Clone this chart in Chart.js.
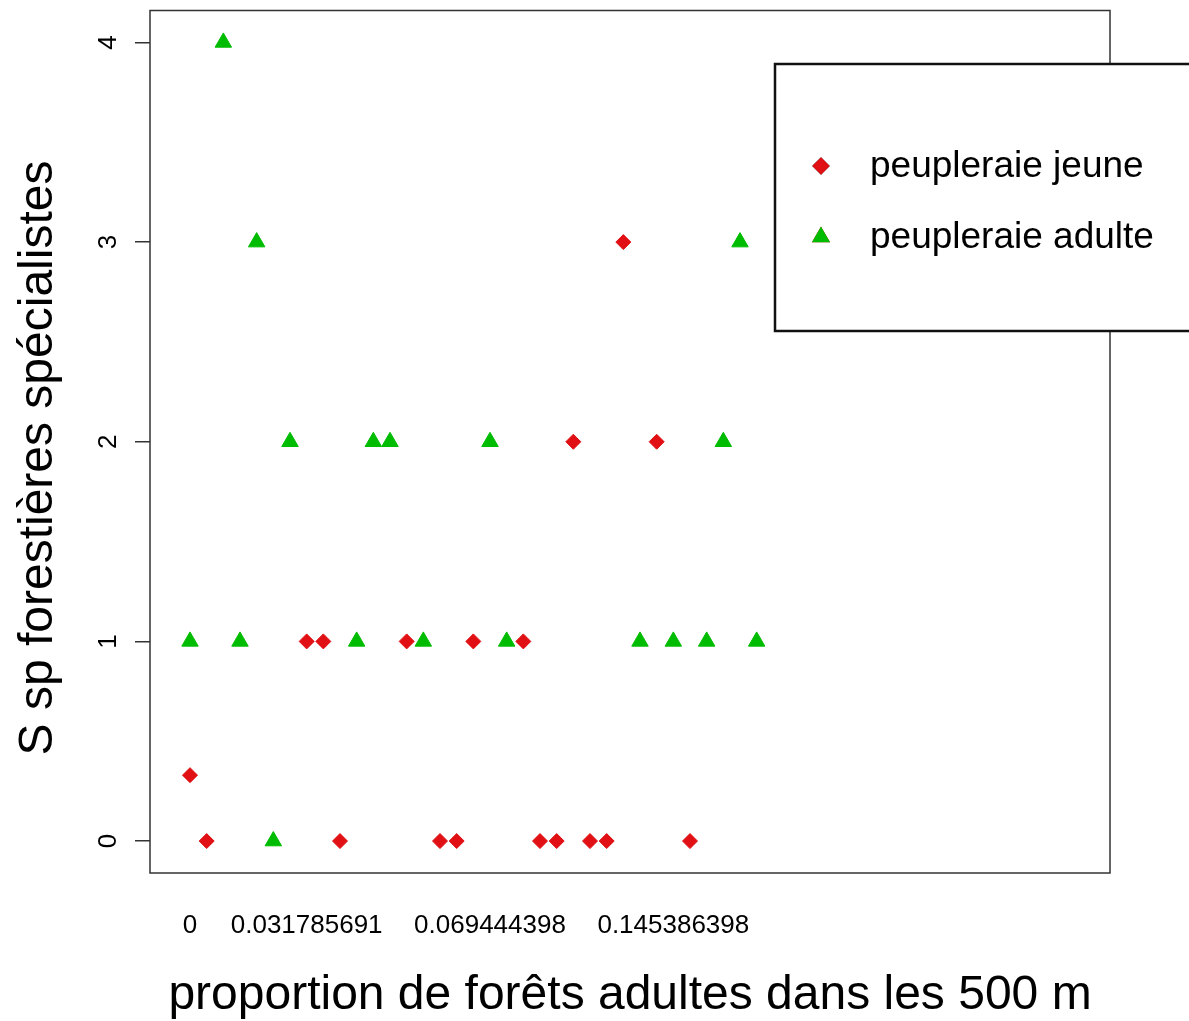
<!DOCTYPE html>
<html>
<head>
<meta charset="utf-8">
<title>S sp forestières spécialistes</title>
<script src="https://cdn.jsdelivr.net/npm/chart.js@4.4.1/dist/chart.umd.min.js"></script>
<style>
  html, body { margin: 0; padding: 0; background: #fff; }
  canvas { display: block; }
</style>
</head>
<body>
<canvas id="plot" width="1189" height="1021"></canvas>
<script>
// factor positions (0 = first level) and counts
const jeuneX = [0, 1, 7, 8, 9, 13, 15, 16, 17, 20, 21, 22, 23, 24, 25, 26, 28, 30];
const jeuneY = [0.33, 0, 1, 1, 0, 1, 0, 0, 1, 1, 0, 0, 2, 0, 0, 3, 2, 0];
const adulteX = [0, 2, 3, 4, 5, 6, 10, 11, 12, 14, 18, 19, 27, 29, 31, 32, 33, 34];
const adulteY = [1, 4, 1, 3, 0, 2, 1, 2, 2, 1, 2, 1, 1, 1, 1, 2, 3, 1];

// x labels R managed to print without overlap
const xTickPos = [0, 7, 18, 29];
const xTickLabels = ["0", "0.031785691", "0.069444398", "0.145386398"];
const yTicks = [0, 1, 2, 3, 4];

const seriesNames = ["peupleraie jeune", "peupleraie adulte"];
const yTitle = "S sp forestières spécialistes";
const RED = "rgb(224, 16, 20)";
const GREEN = "rgb(0, 188, 0)";
const FONT = "'Liberation Sans', Arial, Helvetica, sans-serif";

function toPoints(xs, ys) {
  return xs.map(function (x, i) {
    return { x: x, y: ys[i] };
  });
}

// box around the plotting region, like R's box()
const boxPlugin = {
  id: "box",
  afterDatasetsDraw(chart) {
    const a = chart.chartArea;
    const ctx = chart.ctx;
    ctx.save();
    ctx.strokeStyle = "#333";
    ctx.lineWidth = 1.5;
    ctx.strokeRect(a.left, a.top, a.right - a.left, a.bottom - a.top);
    ctx.restore();
  },
};

// y label sits a bit below the middle of the box in the original
const yTitlePlugin = {
  id: "yTitle",
  afterDraw(chart) {
    const ctx = chart.ctx;
    ctx.save();
    ctx.translate(52, 458);
    ctx.rotate(-Math.PI / 2);
    ctx.font = "48px " + FONT;
    ctx.fillStyle = "#000";
    ctx.textAlign = "center";
    ctx.textBaseline = "alphabetic";
    ctx.fillText(yTitle, 0, 0);
    ctx.restore();
  },
};

// boxed legend placed top right, partly off the page as in the original
const legendBoxPlugin = {
  id: "legendBox",
  afterDraw(chart) {
    const ctx = chart.ctx;
    const sets = chart.data.datasets;
    ctx.save();
    ctx.fillStyle = "#fff";
    ctx.fillRect(775, 64, 500, 267);
    ctx.strokeStyle = "#111";
    ctx.lineWidth = 2.5;
    ctx.strokeRect(775, 64, 500, 267);

    ctx.font = "37px " + FONT;
    ctx.textBaseline = "middle";
    ctx.textAlign = "left";
    const rows = [166, 237];
    sets.forEach(function (ds, i) {
      Chart.helpers.drawPoint(
        ctx,
        {
          pointStyle: ds.pointStyle,
          radius: i === 0 ? 7 : 8,
          borderWidth: 1,
          rotation: 0,
        },
        821,
        rows[i]
      );
      ctx.fillStyle = ds.backgroundColor;
      ctx.strokeStyle = ds.borderColor;
      ctx.fill();
      ctx.stroke();
      ctx.fillStyle = "#000";
      ctx.fillText(ds.label, 870, rows[i] + 1);
    });
    ctx.restore();
  },
};

const ctx = document.getElementById("plot").getContext("2d");

const chart = new Chart(ctx, {
  type: "scatter",
  data: {
    datasets: [
      {
        label: seriesNames[0],
        data: toPoints(jeuneX, jeuneY),
        pointStyle: "rectRot",
        pointRadius: 7.5,
        backgroundColor: RED,
        borderColor: RED,
        borderWidth: 1,
      },
      {
        label: seriesNames[1],
        data: toPoints(adulteX, adulteY),
        pointStyle: "triangle",
        pointRadius: 9.5,
        backgroundColor: GREEN,
        borderColor: GREEN,
        borderWidth: 1,
      },
    ],
  },
  options: {
    responsive: false,
    animation: false,
    layout: {
      padding: { top: 8, right: 79, left: 0, bottom: 0 },
    },
    plugins: {
      legend: { display: false },
      tooltip: { enabled: false },
    },
    scales: {
      x: {
        type: "linear",
        min: -2.4,
        max: 55.2,
        afterBuildTicks: function (scale) {
          scale.ticks = xTickPos.map(function (v) {
            return { value: v };
          });
        },
        afterFit: function (scale) {
          scale.height = 148;
          scale.paddingLeft = 0;
          scale.paddingRight = 0;
        },
        grid: { display: false, drawTicks: false },
        border: { display: false },
        ticks: {
          autoSkip: false,
          maxRotation: 0,
          padding: 37,
          color: "#000",
          font: { family: FONT, size: 26 },
          callback: function (value) {
            const i = xTickPos.indexOf(value);
            return i >= 0 ? xTickLabels[i] : "";
          },
        },
        title: {
          display: true,
          text: "proportion de forêts adultes dans les 500 m",
          color: "#000",
          font: { family: FONT, size: 48, lineHeight: 1 },
          padding: { top: 0, bottom: 1 },
        },
      },
      y: {
        type: "linear",
        min: -0.16,
        max: 4.16,
        afterBuildTicks: function (scale) {
          scale.ticks = yTicks.map(function (v) {
            return { value: v };
          });
        },
        afterFit: function (scale) {
          scale.width = 150;
          scale.paddingTop = 0;
          scale.paddingBottom = 0;
        },
        grid: {
          drawOnChartArea: false,
          drawTicks: true,
          tickLength: 15,
          tickColor: "#333",
          lineWidth: 1.5,
        },
        border: { display: false },
        ticks: {
          minRotation: 90,
          maxRotation: 90,
          crossAlign: "center",
          padding: 19,
          color: "#000",
          font: { family: FONT, size: 26 },
        },
        title: { display: false },
      },
    },
  },
  plugins: [boxPlugin, yTitlePlugin, legendBoxPlugin],
});
</script>
</body>
</html>
